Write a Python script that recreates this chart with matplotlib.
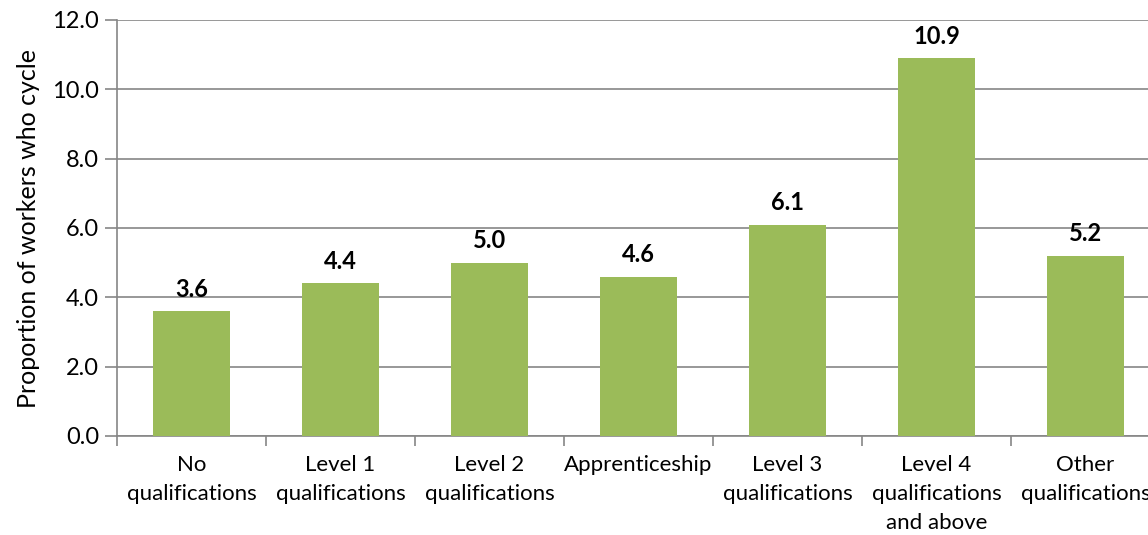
import numpy as np
import matplotlib
matplotlib.use("Agg")
import matplotlib.pyplot as plt

categories = ["No\nqualifications", "Level 1\nqualifications", "Level 2\nqualifications",
              "Apprenticeship", "Level 3\nqualifications", "Level 4\nqualifications\nand above",
              "Other\nqualifications"]
values = [3.6, 4.4, 5.0, 4.6, 6.1, 10.9, 5.2]
yticks = [0, 2, 4, 6, 8, 10, 12]

plt.rcParams['font.family'] = ['Lato', 'DejaVu Sans']

fig = plt.figure(figsize=(11.48, 5.35), dpi=100)
ax = fig.add_axes([117 / 1148, 1 - 436 / 535, 1043 / 1148, 416 / 535])

grey = "#868686"
x = np.arange(len(values))
ax.bar(x, values, width=0.52, color="#9BBB59", zorder=3)
for xi, v in zip(x, values):
    ax.text(xi, v + 0.3, f"{v:.1f}", ha="center", va="bottom",
            fontsize=17, fontweight="bold", color="black")

ax.set_xlim(-0.5, len(values) - 0.5)
ax.set_ylim(0, 12)
ax.set_yticks(yticks)
ax.set_yticklabels([f"{t:.1f}" for t in yticks], fontsize=17)
ax.yaxis.grid(True, color=grey, linewidth=1.2, zorder=0)
ax.set_axisbelow(True)

# category labels centred under bars, ticks at boundaries
# (the last label runs past the right edge, as in the original)
ax.set_xticks(x)
ax.set_xticklabels(categories, fontsize=16, linespacing=1.55)
ax.tick_params(axis="x", length=0, pad=14)
ax.set_xticks(np.arange(len(values) + 1) - 0.5, minor=True)
ax.tick_params(axis="x", which="minor", length=7, color=grey, width=1.2)
ax.tick_params(axis="y", length=9, color=grey, width=1.2, pad=4)

for s in ["top", "right"]:
    ax.spines[s].set_visible(False)
for s in ["left", "bottom"]:
    ax.spines[s].set_color(grey)
    ax.spines[s].set_linewidth(1.2)

ax.set_ylabel("Proportion of workers who cycle", fontsize=18, labelpad=9)

fig.savefig("out.png", dpi=100)
